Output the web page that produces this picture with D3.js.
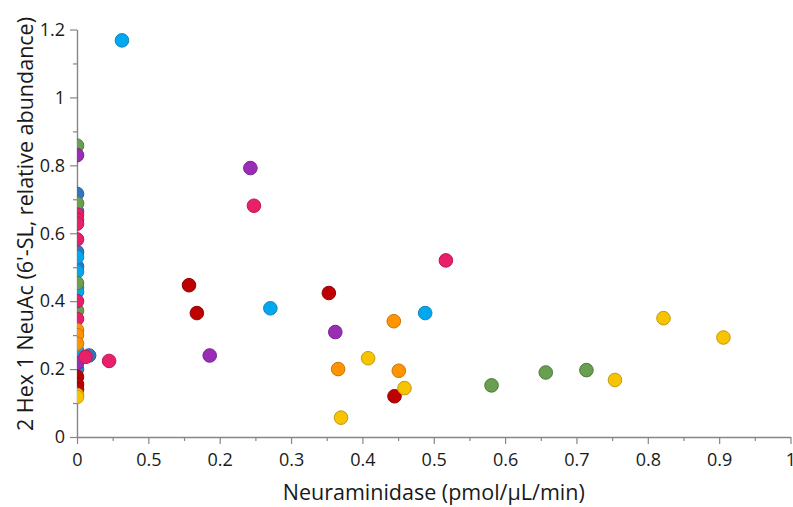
<!DOCTYPE html>
<html>
<head>
<meta charset="utf-8">
<script src="https://cdn.jsdelivr.net/npm/d3@7"></script>
<style>
  html, body { margin: 0; padding: 0; background: #fff; }
  svg { display: block; font-family: "Open Sans", "Noto Sans", sans-serif; }
</style>
</head>
<body>
<svg id="chart" width="793" height="507"></svg>
<script>
// ---- data ----
const xTickValues = [0, 0.1, 0.2, 0.3, 0.4, 0.5, 0.6, 0.7, 0.8, 0.9, 1];
const xTickLabels = ["0", "0.5", "0.2", "0.3", "0.4", "0.5", "0.6", "0.7", "0.8", "0.9", "1"];
const yTickValues = [0, 0.2, 0.4, 0.6, 0.8, 1, 1.2];
const yTickLabels = ["0", "0.2", "0.4", "0.6", "0.8", "1", "1.2"];
const xTitle = "Neuraminidase (pmol/µL/min)";
const yTitle = "2 Hex 1 NeuAc (6'-SL, relative abundance)";

const darkBlueX  = [0, 0, 0, 0, 0, 0.017];
const darkBlueY  = [0.716, 0.665, 0.545, 0.502, 0.20, 0.240];
const lightBlueX = [0, 0, 0, 0, 0, 0.063, 0.271, 0.488];
const lightBlueY = [0.530, 0.487, 0.440, 0.428, 0.255, 1.168, 0.379, 0.365];
const greenX     = [0, 0, 0, 0, 0.581, 0.657, 0.714];
const greenY     = [0.858, 0.688, 0.453, 0.372, 0.152, 0.190, 0.197];
const purpleX    = [0, 0, 0.243, 0.186, 0.362];
const purpleY    = [0.830, 0.218, 0.792, 0.240, 0.309];
const pinkX      = [0, 0, 0, 0, 0, 0, 0.012, 0.045, 0.248, 0.517];
const pinkY      = [0.655, 0.640, 0.628, 0.582, 0.400, 0.348, 0.236, 0.224, 0.681, 0.520];
const redX       = [0, 0, 0, 0.157, 0.168, 0.353, 0.445];
const redY       = [0.177, 0.155, 0.140, 0.447, 0.365, 0.424, 0.120];
const orangeX    = [0, 0, 0, 0.444, 0.366, 0.451];
const orangeY    = [0.315, 0.300, 0.275, 0.341, 0.200, 0.195];
const yellowX    = [0, 0, 0.408, 0.459, 0.370, 0.754, 0.822, 0.906];
const yellowY    = [0.124, 0.118, 0.232, 0.144, 0.057, 0.168, 0.350, 0.293];

const series = [
  { x: darkBlueX,  y: darkBlueY,  fill: "#2E78C2", stroke: "#2A5F96" },
  { x: lightBlueX, y: lightBlueY, fill: "#00A8F0", stroke: "#1783B8" },
  { x: greenX,     y: greenY,     fill: "#6A9E50", stroke: "#4E7A3A" },
  { x: purpleX,    y: purpleY,    fill: "#9A2DB5", stroke: "#7A2290" },
  { x: pinkX,      y: pinkY,      fill: "#E8206A", stroke: "#B81B54" },
  { x: redX,       y: redY,       fill: "#BE0000", stroke: "#8E0505" },
  { x: orangeX,    y: orangeY,    fill: "#FF9400", stroke: "#C87408" },
  { x: yellowX,    y: yellowY,    fill: "#F8C300", stroke: "#C29A10" }
];

// ---- layout ----
(function () {
const svg = d3.select("#chart");
const mLeft = 77, mRight = 790.5, mTop = 29.5, mBottom = 437;
const x = d3.scaleLinear().domain([0, 1]).range([mLeft, mRight]);
const y = d3.scaleLinear().domain([0, 1.2]).range([mBottom, mTop]);
const axisColor = "#868686";
const textColor = "#1a1a1a";

svg.append("defs").append("clipPath").attr("id", "plotClip")
  .append("rect").attr("x", mLeft).attr("y", 0).attr("width", mRight - mLeft + 10).attr("height", mBottom + 10);

// minor ticks
const xMinor = d3.range(0.05, 1, 0.1);
const yMinor = d3.range(0.1, 1.2, 0.2);
svg.append("g").attr("transform", `translate(0,${mBottom})`)
  .call(d3.axisBottom(x).tickValues(xMinor).tickSize(4).tickSizeOuter(0).tickFormat(""))
  .call(g => g.select(".domain").remove())
  .call(g => g.selectAll("line").attr("stroke", axisColor).attr("stroke-width", 1.2));
svg.append("g").attr("transform", `translate(${mLeft},0)`)
  .call(d3.axisLeft(y).tickValues(yMinor).tickSize(4).tickSizeOuter(0).tickFormat(""))
  .call(g => g.select(".domain").remove())
  .call(g => g.selectAll("line").attr("stroke", axisColor).attr("stroke-width", 1.2));

// major axes
const xAxis = svg.append("g").attr("transform", `translate(0,${mBottom})`)
  .call(d3.axisBottom(x).tickValues(xTickValues).tickSize(7).tickSizeOuter(0).tickPadding(9)
    .tickFormat((d, i) => xTickLabels[i]));
const yAxis = svg.append("g").attr("transform", `translate(${mLeft},0)`)
  .call(d3.axisLeft(y).tickValues(yTickValues).tickSize(7).tickSizeOuter(0).tickPadding(5)
    .tickFormat((d, i) => yTickLabels[i]));
[xAxis, yAxis].forEach(g => {
  g.select(".domain").attr("stroke", axisColor).attr("stroke-width", 1.4);
  g.selectAll(".tick line").attr("stroke", axisColor).attr("stroke-width", 1.2);
  g.selectAll(".tick text").attr("fill", textColor).style("font-size", "18px")
    .style("font-family", "'Open Sans', sans-serif");
});

// points
const plot = svg.append("g").attr("clip-path", "url(#plotClip)");
series.forEach(s => {
  const pts = s.x.map((v, i) => [v, s.y[i]]);
  plot.append("g").selectAll("circle").data(pts).join("circle")
    .attr("cx", d => x(d[0])).attr("cy", d => y(d[1])).attr("r", 6.8)
    .attr("fill", s.fill).attr("stroke", s.stroke).attr("stroke-width", 1);
});

// titles
svg.append("text")
  .attr("x", (mLeft + mRight) / 2).attr("y", 500)
  .attr("text-anchor", "middle").attr("fill", textColor)
  .style("font-size", "21.5px").text(xTitle);
svg.append("text")
  .attr("transform", `translate(33,224) rotate(-90)`)
  .attr("text-anchor", "middle").attr("fill", textColor)
  .style("font-size", "21.5px").text(yTitle);
})();
</script>
</body>
</html>
